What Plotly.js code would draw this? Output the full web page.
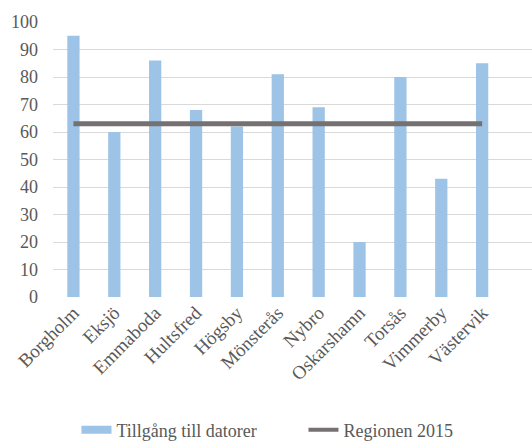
<!DOCTYPE html>
<html>
<head>
<meta charset="utf-8">
<script src="https://cdn.plot.ly/plotly-3.0.1.min.js"></script>
<style>html,body{margin:0;padding:0;background:#fff;}#chart{width:532px;height:441px;}</style>
</head>
<body>
<div id="chart"></div>
<script>
const categories = ["Borgholm","Eksjö","Emmaboda","Hultsfred","Högsby","Mönsterås","Nybro","Oskarshamn","Torsås","Vimmerby","Västervik"];
const tillgang = [95, 60, 86, 68, 62, 81, 69, 20, 80, 43, 85];
const regionen2015 = [63, 63, 63, 63, 63, 63, 63, 63, 63, 63, 63];
const yTicks = [0,10,20,30,40,50,60,70,80,90,100];

const barColor = "#9DC3E6";
const lineColor = "#767171";
const font = "Liberation Serif, Times New Roman, serif";

const traces = [
  {type:"bar", x:categories, y:tillgang, name:"Tillgång till datorer", marker:{color:barColor}, showlegend:false, hoverinfo:"skip"},
  {type:"scatter", mode:"lines", x:categories, y:regionen2015, name:"Regionen 2015", line:{color:lineColor, width:5}, showlegend:false},
  {type:"scatter", mode:"lines", x:[null], y:[null], name:"Tillgång till datorer", line:{color:barColor, width:8}},
  {type:"scatter", mode:"lines", x:[null], y:[null], name:"Regionen 2015", line:{color:lineColor, width:4}}
];

const layout = {
  width:532, height:441,
  margin:{l:52.5, r:0, t:22, b:144},
  paper_bgcolor:"#fff", plot_bgcolor:"#fff",
  font:{family:font, size:18, color:"#595959"},
  bargap:0.7,
  xaxis:{type:"category", range:[-0.5, 11.22], tickangle:-45, showgrid:false, zeroline:false, showline:false, ticks:"", tickfont:{family:font, size:19, color:"#595959"}},
  yaxis:{range:[0,100], tickvals:yTicks, ticktext:yTicks.map(String), showgrid:true, gridcolor:"#D9D9D9", gridwidth:1, zeroline:false, showline:false, ticks:"", ticklabelstandoff:14, tickfont:{family:font, size:18, color:"#595959"}},
  legend:{orientation:"h", x:0.049, xanchor:"left", yref:"container", y:0.025, yanchor:"middle", entrywidth:182, entrywidthmode:"pixels", font:{family:font, size:18, color:"#595959"}, bgcolor:"rgba(0,0,0,0)"},
  showlegend:true
};

Plotly.newPlot("chart", traces, layout, {displayModeBar:false, staticPlot:true});
</script>
</body>
</html>
